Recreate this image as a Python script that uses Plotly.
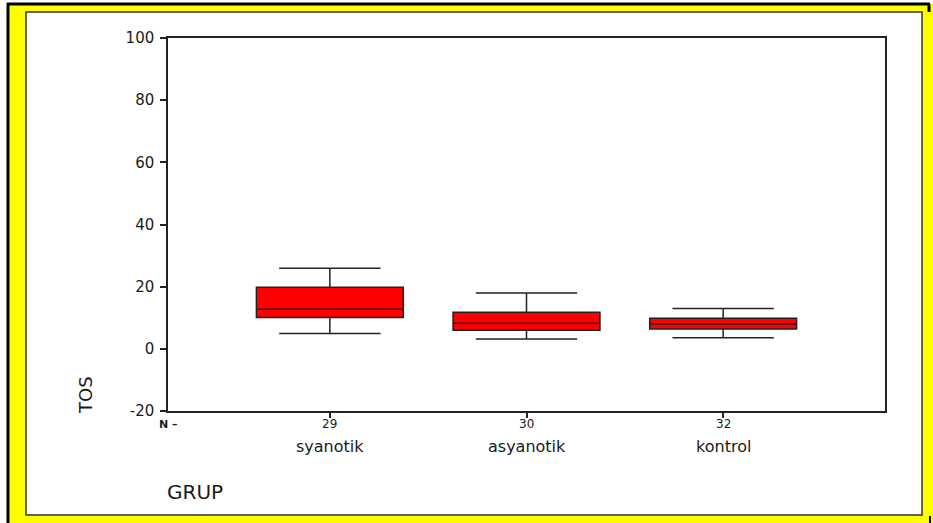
import plotly.graph_objects as go

# ---- data ----
groups = ["syanotik", "asyanotik", "kontrol"]
n_counts = [29, 30, 32]
q1 = [10.1, 6.0, 6.4]
median = [12.7, 8.2, 8.0]
q3 = [19.8, 11.8, 9.8]
lower_fence = [4.9, 3.2, 3.6]
upper_fence = [25.9, 18.0, 13.0]
y_ticks = [-20, 0, 20, 40, 60, 80, 100]
y_tick_labels = [str(v) for v in y_ticks]

W, H = 933, 523
L, R, T, B = 168, 885, 38, 411  # plot area in pixels
pw, ph = R - L, B - T


def px(x):
    return (x - L) / pw


def py(y):
    return (B - y) / ph


FONT = "DejaVu Sans"
TXT = "#1a1a1a"

fig = go.Figure()
fig.add_trace(go.Box(
    x=groups,
    q1=q1, median=median, q3=q3,
    lowerfence=lower_fence, upperfence=upper_fence,
    width=0.747,
    whiskerwidth=0.69,
    fillcolor="#FF0000",
    line=dict(color="#222222", width=1.5),
    boxpoints=False,
    showlegend=False,
    hoverinfo="skip",
))

shapes = [
    # yellow frame
    dict(type="rect", xref="paper", yref="paper", layer="below",
         x0=px(8), x1=px(940), y0=py(530), y1=py(4),
         fillcolor="#FFFF00", line=dict(width=0)),
    # outer black edges
    dict(type="line", xref="paper", yref="paper", layer="below",
         x0=px(8), x1=px(8), y0=py(530), y1=py(3),
         line=dict(color="black", width=3)),
    dict(type="line", xref="paper", yref="paper", layer="below",
         x0=px(7), x1=px(930), y0=py(4), y1=py(4),
         line=dict(color="black", width=3)),
    dict(type="line", xref="paper", yref="paper", layer="below",
         x0=px(929), x1=px(929), y0=py(12), y1=py(4),
         line=dict(color="black", width=3)),
    dict(type="line", xref="paper", yref="paper", layer="below",
         x0=px(930), x1=px(930), y0=py(523), y1=py(516),
         line=dict(color="black", width=2)),
    # inner white panel
    dict(type="rect", xref="paper", yref="paper", layer="below",
         x0=px(26), x1=px(922), y0=py(515), y1=py(12),
         fillcolor="white", line=dict(color="#333333", width=1.5)),
]

annotations = [
    dict(text="TOS", xref="paper", yref="paper", x=px(85), y=py(395),
         textangle=-90, showarrow=False, font=dict(family=FONT, size=18, color=TXT),
         xanchor="center", yanchor="middle"),
    dict(text="GRUP", xref="paper", yref="paper", x=px(165), y=py(492),
         showarrow=False, font=dict(family=FONT, size=20, color=TXT),
         xanchor="left", yanchor="middle"),
    dict(text="<b>N –</b>", xref="paper", yref="paper", x=px(157), y=py(424),
         showarrow=False, font=dict(family=FONT, size=11, color=TXT),
         xanchor="left", yanchor="middle"),
]
for g, n in zip(groups, n_counts):
    annotations.append(dict(text=str(n), xref="x", yref="paper", x=g, y=py(424),
                            showarrow=False, font=dict(family=FONT, size=12, color=TXT),
                            xanchor="center", yanchor="middle"))
    annotations.append(dict(text=g, xref="x", yref="paper", x=g, y=py(446),
                            showarrow=False, font=dict(family=FONT, size=16, color=TXT),
                            xanchor="center", yanchor="middle"))

fig.update_layout(
    width=W, height=H,
    margin=dict(l=L, r=W - R, t=T, b=H - B, pad=0),
    paper_bgcolor="white",
    plot_bgcolor="white",
    shapes=shapes,
    annotations=annotations,
    font=dict(family=FONT, color=TXT),
    xaxis=dict(
        type="category",
        range=[-0.823, 2.823],
        showticklabels=False,
        ticks="outside", ticklen=5, tickcolor="#222", tickwidth=1.5,
        showline=True, linecolor="#222", linewidth=1.5, mirror=True,
        showgrid=False, zeroline=False,
    ),
    yaxis=dict(
        range=[-20, 100],
        tickvals=y_ticks,
        ticktext=y_tick_labels,
        ticks="outside", ticklen=6, tickcolor="#222", tickwidth=1.5,
        ticklabelstandoff=3,
        tickfont=dict(family=FONT, size=15, color=TXT),
        showline=True, linecolor="#222", linewidth=1.5, mirror=True,
        showgrid=False, zeroline=False,
    ),
)

fig.write_html(
    "out.html",
    config={"displayModeBar": False},
    post_script="document.body.style.margin='0';document.body.style.overflow='hidden';",
)
